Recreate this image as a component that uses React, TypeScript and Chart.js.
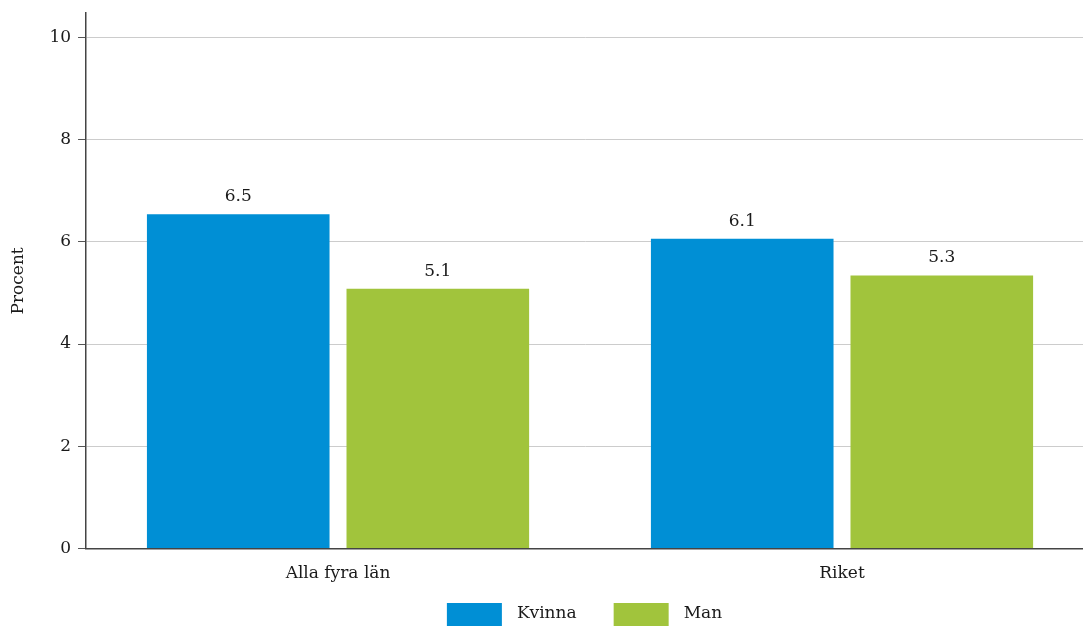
import React, { useEffect, useRef } from "react";
import { Chart, registerables } from "chart.js";

Chart.register(...registerables);

const categories = ["Alla fyra län", "Riket"];
const seriesNames = ["Kvinna", "Man"];
const kvinnaValues = [6.54, 6.06];
const manValues = [5.08, 5.34];
const seriesColors = ["#008FD5", "#A1C43C"];
const yTicks = [0, 2, 4, 6, 8, 10];

const FONT = "'DejaVu Serif', 'Liberation Serif', serif";
const TEXT = "#1a1a1a";
const X_OVERFLOW = 11;
const Y_TOP_EXTRA = 4;

const valueLabelPlugin = {
  id: "valueLabels",
  afterDatasetsDraw(chart: any) {
    const ctx = chart.ctx;
    ctx.save();
    ctx.font = `17px ${FONT}`;
    ctx.fillStyle = TEXT;
    ctx.textAlign = "center";
    ctx.textBaseline = "bottom";
    chart.data.datasets.forEach((ds: any, i: number) => {
      const meta = chart.getDatasetMeta(i);
      meta.data.forEach((bar: any, j: number) => {
        ctx.fillText(Number(ds.data[j]).toFixed(1), bar.x, bar.y - 9);
      });
    });
    ctx.restore();
  },
};

// The original plot area runs slightly past the right edge of the picture.
const extendAreaPlugin = {
  id: "extendArea",
  afterLayout(chart: any) {
    const x = chart.scales.x;
    x.right += X_OVERFLOW;
    x.width += X_OVERFLOW;
    x.configure();
    const y = chart.scales.y;
    y.top -= Y_TOP_EXTRA;
    y.height += Y_TOP_EXTRA;
    y.configure();
    chart.chartArea.right += X_OVERFLOW;
    chart.chartArea.width += X_OVERFLOW;
    chart.chartArea.top -= Y_TOP_EXTRA;
    chart.chartArea.height += Y_TOP_EXTRA;
  },
};

const customLegendPlugin = {
  id: "customLegend",
  afterDraw(chart: any) {
    const ctx = chart.ctx;
    const boxW = 55;
    const boxH = 23;
    const textGap = 15;
    const itemGap = 37;
    ctx.save();
    ctx.font = `17px ${FONT}`;
    const widths = chart.data.datasets.map((ds: any) => boxW + textGap + ctx.measureText(ds.label).width);
    const total = widths.reduce((a: number, b: number) => a + b, 0) + itemGap * (widths.length - 1);
    const area = chart.chartArea;
    let x = (area.left + area.right) / 2 - X_OVERFLOW / 2 - total / 2;
    const top = 603;
    chart.data.datasets.forEach((ds: any, i: number) => {
      ctx.fillStyle = ds.backgroundColor;
      ctx.fillRect(x, top, boxW, boxH);
      ctx.fillStyle = TEXT;
      ctx.textAlign = "left";
      ctx.textBaseline = "middle";
      ctx.fillText(ds.label, x + boxW + textGap, top + 11);
      x += widths[i] + itemGap;
    });
    ctx.restore();
  },
};

export default function App() {
  const ref = useRef<HTMLCanvasElement>(null);
  useEffect(() => {
    if (!ref.current) return;
    const chart = new Chart(ref.current, {
      type: "bar",
      data: {
        labels: categories,
        datasets: [
          { label: seriesNames[0], data: kvinnaValues, backgroundColor: seriesColors[0] },
          { label: seriesNames[1], data: manValues, backgroundColor: seriesColors[1] },
        ],
      },
      options: {
        animation: false,
        responsive: false,
        maintainAspectRatio: false,
        layout: { padding: { top: 0, right: 0, left: 8, bottom: 27 } },
        datasets: { bar: { categoryPercentage: 0.792, barPercentage: 0.915 } },
        plugins: {
          legend: { display: false },
          tooltip: { enabled: false },
        },
        scales: {
          x: {
            grid: { display: false, drawTicks: false },
            border: { display: true, color: "#444", width: 1.5 },
            ticks: { color: TEXT, padding: 15, font: { family: FONT, size: 17 } },
          },
          y: {
            min: 0,
            max: 10.47,
            afterBuildTicks: (axis: any) => {
              axis.ticks = yTicks.map((v) => ({ value: v }));
            },
            grid: { color: "#cccccc", lineWidth: 1, tickLength: 8, tickColor: "#555" },
            border: { display: true, color: "#444", width: 1.5 },
            ticks: { color: TEXT, padding: 7, font: { family: FONT, size: 17 } },
            title: { display: true, text: "Procent", color: TEXT, font: { family: FONT, size: 17 }, padding: { top: 0, bottom: 14 } },
          },
        },
      },
      plugins: [extendAreaPlugin, valueLabelPlugin, customLegendPlugin],
    });
    return () => chart.destroy();
  }, []);
  return (
    <div style={{ position: "fixed", left: 0, top: 0, width: 1083, height: 626, background: "#fff" }}>
      <canvas ref={ref} width={1083} height={626} style={{ display: "block" }} />
    </div>
  );
}
